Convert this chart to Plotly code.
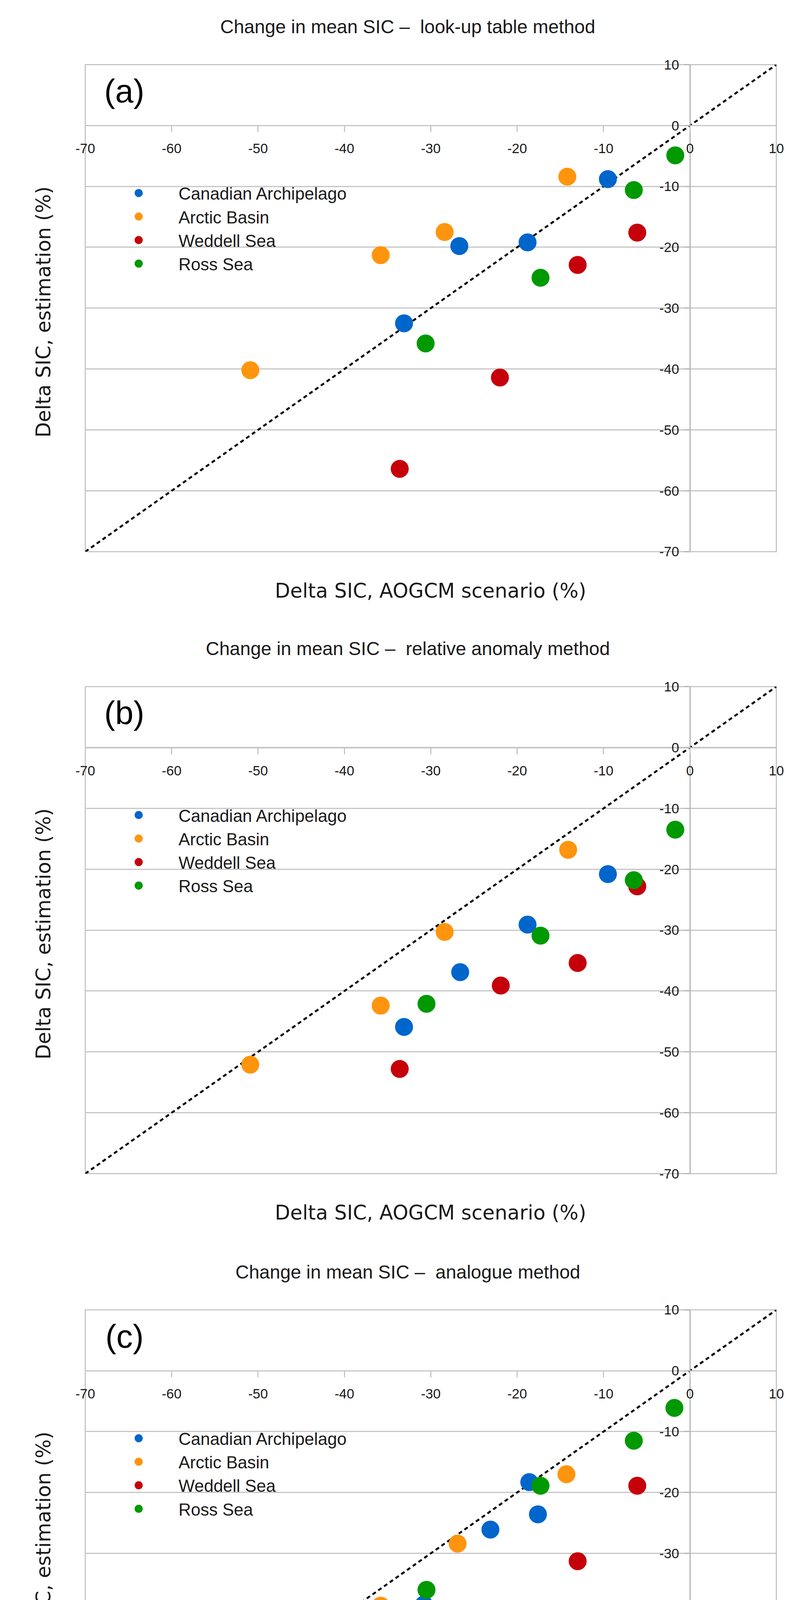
import plotly.graph_objects as go

W, H = 2067, 4777
PAGE_OFFSET = 8  # default body margin of the html page

regions = ['Canadian Archipelago', 'Arctic Basin', 'Weddell Sea', 'Ross Sea']
region_colors = ['#0066cc', '#ff950e', '#c5000b', '#009900']

methods = ['look-up table method', 'relative anomaly method', 'analogue method']
panel_labels = ['(a)', '(b)', '(c)']

axis_range = [-70, 10]
tick_values = [-70, -60, -50, -40, -30, -20, -10, 0, 10]
tick_labels = ['-70', '-60', '-50', '-40', '-30', '-20', '-10', '0', '10']

# (a) look-up table method: x = AOGCM scenario, y = estimation
ca_x_a = [-9.5, -18.8, -26.7, -33.1]
ca_y_a = [-8.8, -19.2, -19.8, -32.5]
ab_x_a = [-14.2, -28.4, -35.8, -50.9]
ab_y_a = [-8.4, -17.5, -21.3, -40.2]
ws_x_a = [-6.1, -13.0, -22.0, -33.6]
ws_y_a = [-17.6, -22.9, -41.4, -56.4]
rs_x_a = [-1.7, -6.5, -17.3, -30.6]
rs_y_a = [-4.9, -10.6, -25.0, -35.8]

# (b) relative anomaly method
ca_x_b = [-9.5, -18.8, -26.6, -33.1]
ca_y_b = [-20.8, -29.1, -36.9, -45.9]
ab_x_b = [-14.1, -28.4, -35.8, -50.9]
ab_y_b = [-16.8, -30.3, -42.4, -52.1]
ws_x_b = [-6.1, -13.0, -21.9, -33.6]
ws_y_b = [-22.8, -35.4, -39.1, -52.8]
rs_x_b = [-1.7, -6.5, -17.3, -30.5]
rs_y_b = [-13.5, -21.8, -30.9, -42.1]

# (c) analogue method
ca_x_c = [-18.6, -17.6, -23.1, -30.8]
ca_y_c = [-18.3, -23.6, -26.1, -38.4]
ab_x_c = [-14.3, -26.9, -35.8, -50.6]
ab_y_c = [-17.0, -28.4, -38.6, -49.3]
ws_x_c = [-6.1, -13.0, -22.0, -33.6]
ws_y_c = [-18.9, -31.3, -46.9, -65.9]
rs_x_c = [-1.8, -6.5, -17.3, -30.5]
rs_y_c = [-6.1, -11.5, -18.9, -36.0]

panels = [
    ([ca_x_a, ab_x_a, ws_x_a, rs_x_a], [ca_y_a, ab_y_a, ws_y_a, rs_y_a]),
    ([ca_x_b, ab_x_b, ws_x_b, rs_x_b], [ca_y_b, ab_y_b, ws_y_b, rs_y_b]),
    ([ca_x_c, ab_x_c, ws_x_c, rs_x_c], [ca_y_c, ab_y_c, ws_y_c, rs_y_c]),
]

# page geometry (pixels, as seen in the final page)
X_LEFT, X_RIGHT = 197.5, 2006
PANEL_TOPS = [146.6, 1752, 3360.6]
PANEL_H = 1257

FONT = 'Liberation Sans'
TITLE_FONT = 'DejaVu Sans'
TEXT_COLOR = '#1a1a1a'
GRID_COLOR = '#c6c6c6'
AXIS_COLOR = '#b4b4b4'


def px_x(p):
    return (p - PAGE_OFFSET) / W


def px_y(p):
    return 1 - (p - PAGE_OFFSET) / H


fig = go.Figure()
layout = {}
annotations = []
shapes = []

xdom = [px_x(X_LEFT), px_x(X_RIGHT)]
zero_frac = (0 - axis_range[0]) / (axis_range[1] - axis_range[0])

for i, (xs, ys) in enumerate(panels):
    sfx = '' if i == 0 else str(i + 1)
    xref, yref = 'x' + sfx, 'y' + sfx
    leg = 'legend' + sfx

    top = PANEL_TOPS[i]
    bottom = top + PANEL_H
    ydom = [px_y(bottom), px_y(top)]

    # 1:1 reference line
    fig.add_trace(go.Scatter(
        x=axis_range, y=axis_range, mode='lines', xaxis=xref, yaxis=yref,
        line=dict(color='black', width=5, dash='10px,8px'),
        showlegend=False, hoverinfo='skip'))

    for name, color, x, y in zip(regions, region_colors, xs, ys):
        fig.add_trace(go.Scatter(
            x=x, y=y, mode='markers', name=name, xaxis=xref, yaxis=yref,
            legend=leg,
            marker=dict(color=color, size=41, line=dict(color=color, width=5))))

    layout['xaxis' + sfx] = dict(
        domain=xdom, range=axis_range, anchor='free',
        position=ydom[0] + zero_frac * (ydom[1] - ydom[0]),
        tickmode='array', tickvals=tick_values, ticktext=tick_labels,
        ticks='outside', ticklen=15, tickwidth=2.5, tickcolor=GRID_COLOR,
        ticklabelstandoff=12,
        showgrid=False, zeroline=False,
        showline=True, linecolor=GRID_COLOR, linewidth=3,
        tickfont=dict(family=FONT, size=35, color=TEXT_COLOR))
    layout['yaxis' + sfx] = dict(
        domain=ydom, range=axis_range, anchor='free',
        position=xdom[0] + zero_frac * (xdom[1] - xdom[0]),
        tickmode='array', tickvals=tick_values, ticktext=tick_labels,
        ticks='outside', ticklen=14, tickwidth=2.5, tickcolor=AXIS_COLOR,
        ticklabelstandoff=6,
        showgrid=True, gridcolor=GRID_COLOR, gridwidth=3, zeroline=False,
        showline=True, linecolor=AXIS_COLOR, linewidth=2.5,
        tickfont=dict(family=FONT, size=35, color=TEXT_COLOR))

    layout[leg] = dict(
        x=px_x(233), xanchor='left', y=px_y(top + 296), yanchor='top',
        bgcolor='rgba(0,0,0,0)', borderwidth=0, itemwidth=194,
        font=dict(family=FONT, size=44, color=TEXT_COLOR))

    shapes.append(dict(
        type='rect', xref=xref + ' domain', yref=yref + ' domain',
        x0=0, x1=1, y0=0, y1=1, layer='below',
        line=dict(color=GRID_COLOR, width=3)))

    annotations += [
        dict(text='Change in mean SIC –\u00a0 ' + methods[i],
             x=px_x(1033.5 + PAGE_OFFSET), y=px_y(top - 98),
             xref='paper', yref='paper',
             showarrow=False, xanchor='center', yanchor='middle',
             font=dict(family=FONT, size=48, color=TEXT_COLOR)),
        dict(text=panel_labels[i], x=px_x(300), y=px_y(top + 68),
             xref='paper', yref='paper', showarrow=False,
             xanchor='center', yanchor='middle',
             font=dict(family=FONT, size=84, color='black')),
        dict(text='Delta SIC, AOGCM scenario (%)',
             x=(xdom[0] + xdom[1]) / 2, y=px_y(bottom + 101),
             xref='paper', yref='paper', showarrow=False,
             xanchor='center', yanchor='middle',
             font=dict(family=TITLE_FONT, size=51, color=TEXT_COLOR)),
        dict(text='Delta SIC, estimation (%)',
             x=px_x(88), y=px_y(top + PANEL_H / 2 + 10),
             xref='paper', yref='paper', showarrow=False, textangle=-90,
             xanchor='center', yanchor='middle',
             font=dict(family=TITLE_FONT, size=51, color=TEXT_COLOR)),
    ]

fig.update_layout(
    width=W, height=H,
    margin=dict(l=0, r=0, t=0, b=0),
    paper_bgcolor='white', plot_bgcolor='white',
    showlegend=True,
    annotations=annotations, shapes=shapes,
    **layout)

fig.write_html("out.html")
